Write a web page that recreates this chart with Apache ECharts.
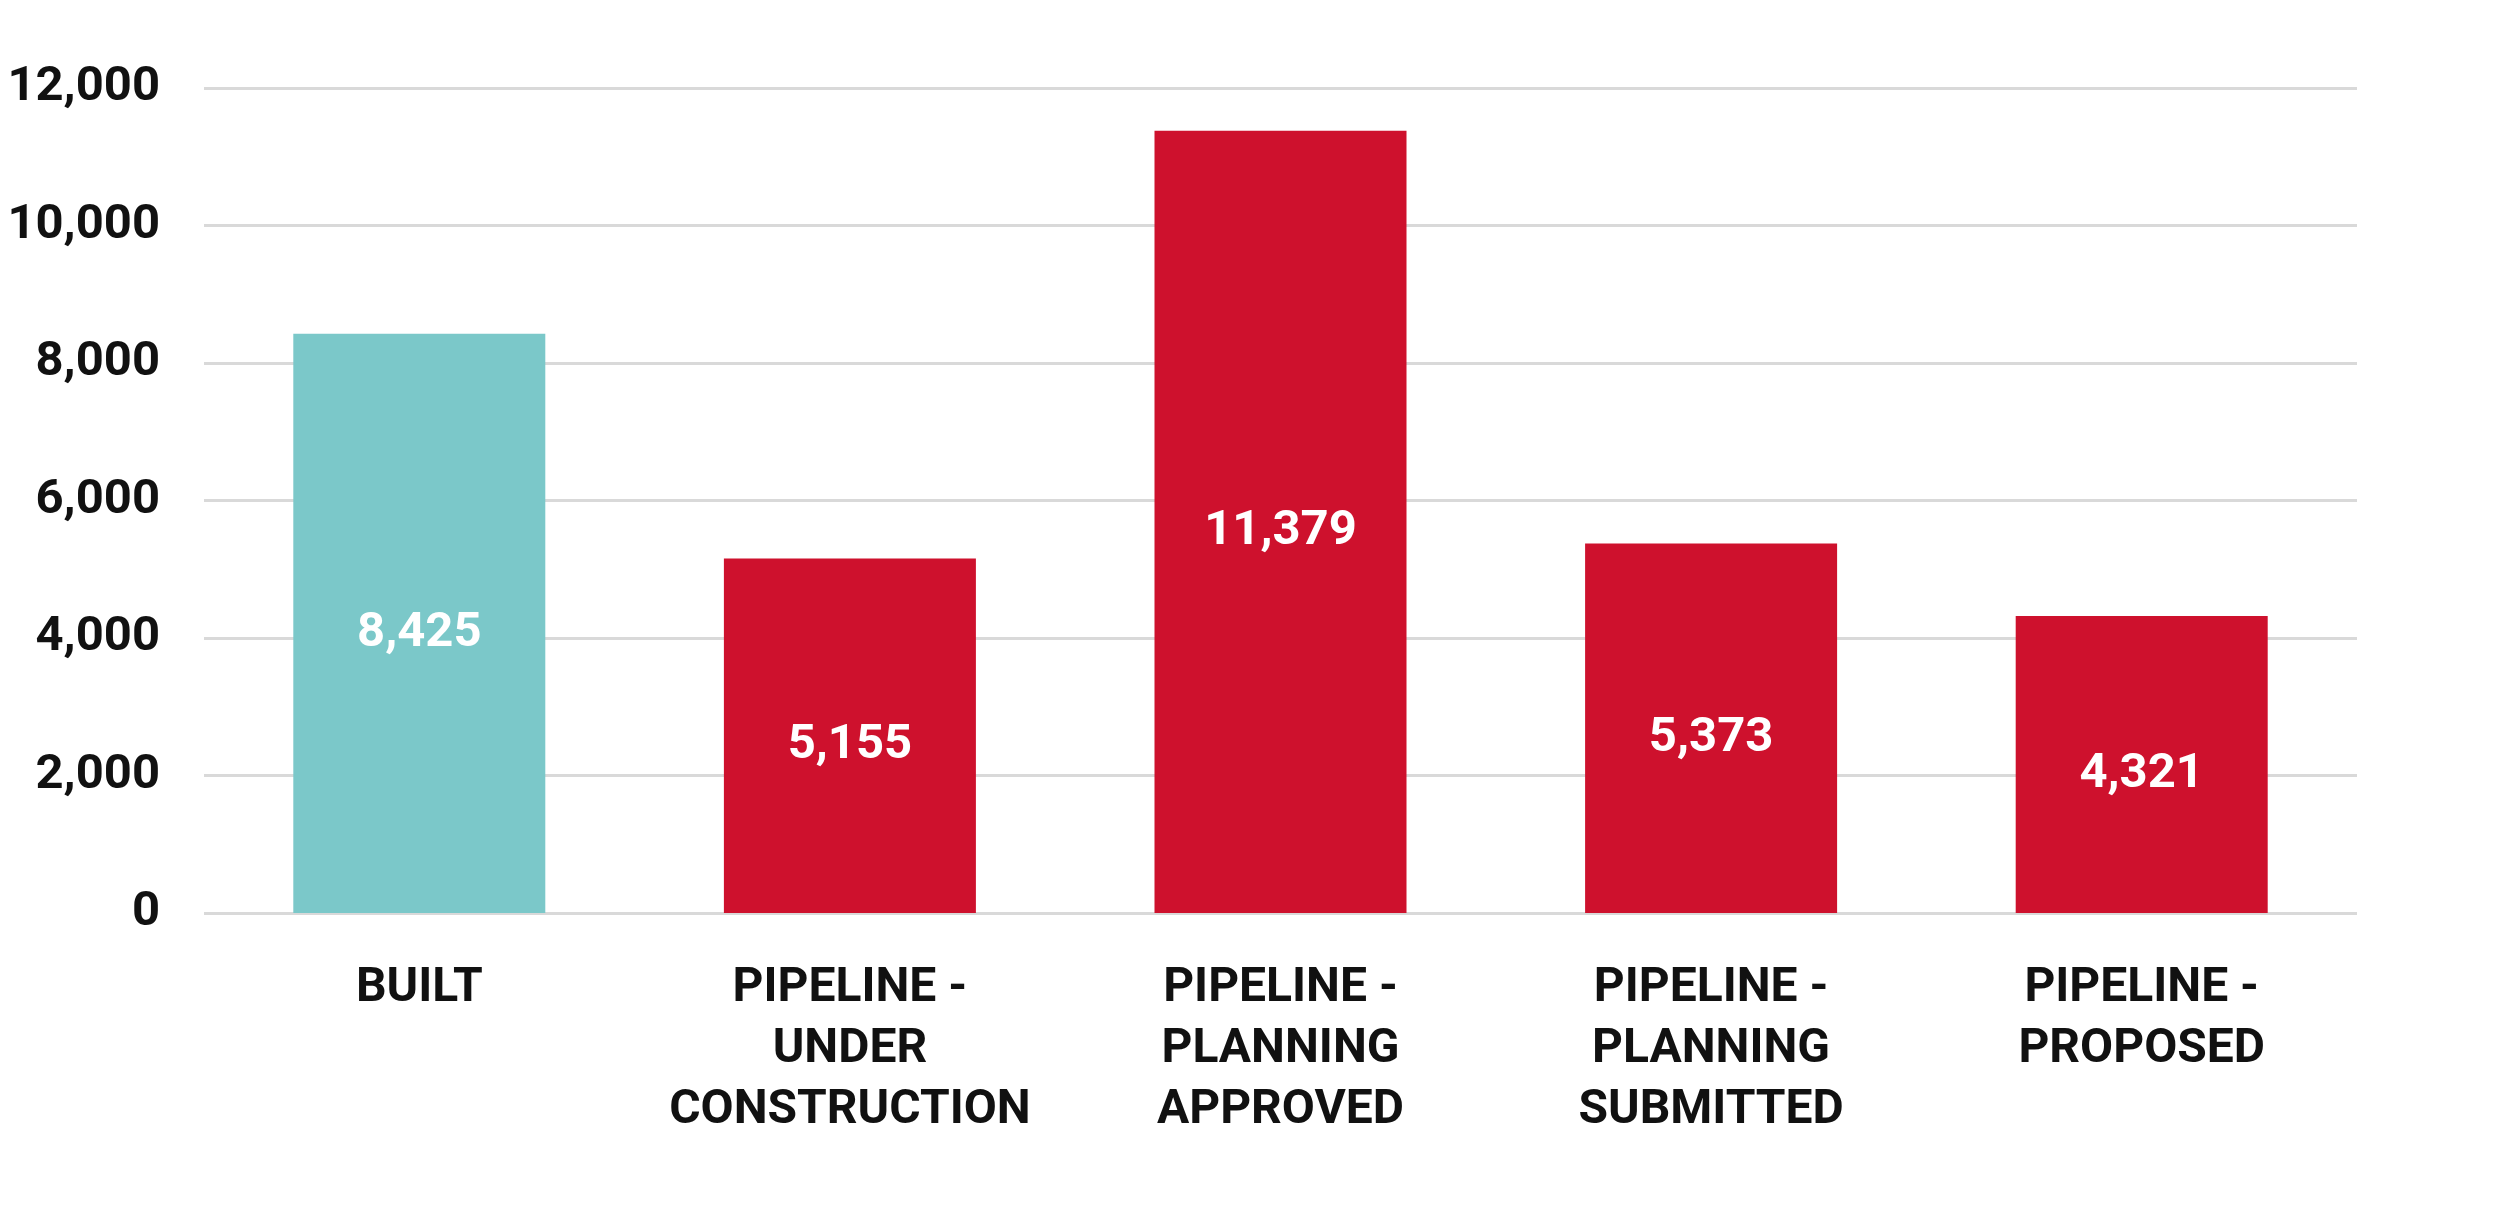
<!DOCTYPE html>
<html>
<head>
<meta charset="utf-8">
<script src="https://cdn.jsdelivr.net/npm/echarts@6/dist/echarts.min.js"></script>
<style>
  html, body { margin: 0; padding: 0; background: #fff; }
  #chart { width: 2504px; height: 1212px; }
</style>
</head>
<body>
<div id="chart"></div>
<script>
const categories = [
  "BUILT",
  "PIPELINE -\nUNDER\nCONSTRUCTION",
  "PIPELINE -\nPLANNING\nAPPROVED",
  "PIPELINE -\nPLANNING\nSUBMITTED",
  "PIPELINE -\nPROPOSED"
];
const values = [8425, 5155, 11379, 5373, 4321];
const barColors = ["#7bc8c9", "#ce112d", "#ce112d", "#ce112d", "#ce112d"];

const fmt = (v) => v.toLocaleString("en-US");

const chart = echarts.init(document.getElementById("chart"));
chart.setOption({
  animation: false,
  textStyle: { fontFamily: "Roboto" },
  grid: { left: 204, right: 147, top: 88, bottom: 299, containLabel: false },
  xAxis: {
    type: "category",
    data: categories,
    axisLine: { show: false },
    axisTick: { show: false },
    axisLabel: {
      interval: 0,
      margin: 45,
      fontSize: 48,
      fontWeight: "bold",
      color: "#111",
      lineHeight: 61
    }
  },
  yAxis: {
    type: "value",
    min: 0,
    max: 12000,
    interval: 2000,
    axisLine: { show: false },
    axisTick: { show: false },
    axisLabel: {
      margin: 44,
      fontSize: 49,
      fontWeight: "bold",
      color: "#111",
      formatter: (v) => fmt(v)
    },
    splitLine: { lineStyle: { color: "#d9d9d9", width: 3 } }
  },
  series: [{
    type: "bar",
    data: values.map((v, i) => ({ value: v, itemStyle: { color: barColors[i] } })),
    barWidth: 252,
    label: {
      show: true,
      position: "inside",
      offset: [0, 10],
      color: "#fff",
      fontSize: 49,
      fontWeight: "bold",
      formatter: (p) => fmt(p.value)
    }
  }]
});
</script>
</body>
</html>
